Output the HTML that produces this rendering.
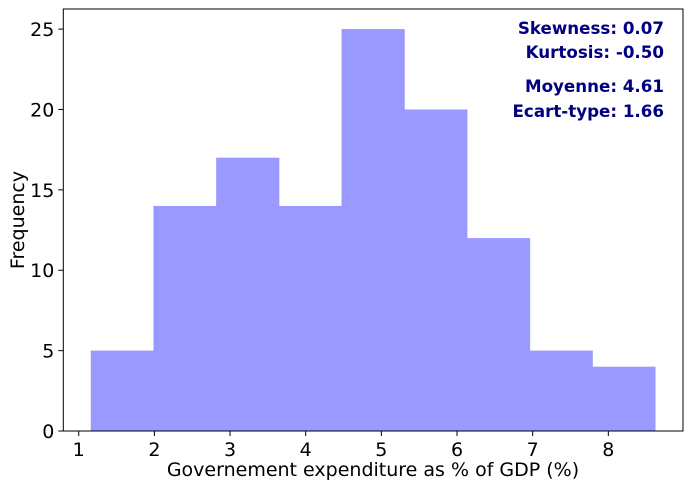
<!DOCTYPE html>
<html><head><meta charset="utf-8"><style>
body{margin:0;background:#fff;}
svg text{font-family:"DejaVu Sans","Liberation Sans",sans-serif;}
</style></head><body>
<svg id="chart" width="691" height="489" xmlns="http://www.w3.org/2000/svg">
<g id="bars"></g>
<g id="axes"></g>
<g font-weight="bold" font-size="16.7" fill="#000080" text-anchor="end">
<text x="664" y="34">Skewness: 0.07</text>
<text x="664" y="58">Kurtosis: -0.50</text>
<text x="664" y="92">Moyenne: 4.61</text>
<text x="664" y="117">Ecart-type: 1.66</text>
</g>
<text x="373" y="476" font-size="19" text-anchor="middle">Governement expenditure as % of GDP (%)</text>
<text transform="translate(24,220) rotate(-90)" font-size="19" text-anchor="middle">Frequency</text>
</svg>
<script>
const binStart = 1.159;
const binEnd = 8.617;
const counts = [5,14,17,14,25,20,12,5,4];
const xTicks = [1,2,3,4,5,6,7,8];
const yTicks = [0,5,10,15,20,25];
const NS="http://www.w3.org/2000/svg";
const X0=63.3,X1=683,Y0=431,Y1=9;
const xmin=0.796,xmax=8.987,ymin=0,ymax=26.25;
const sx=v=>X0+(v-xmin)/(xmax-xmin)*(X1-X0);
const sy=v=>Y0-(v-ymin)/(ymax-ymin)*(Y0-Y1);
function mk(t,a,p){const e=document.createElementNS(NS,t);for(const k in a)e.setAttribute(k,a[k]);p.appendChild(e);return e;}
const bars=document.getElementById('bars'),axes=document.getElementById('axes');
const w=(binEnd-binStart)/counts.length;
counts.forEach((c,i)=>{
 const a=binStart+i*w,b=a+w;
 const r=mk('rect',{x:sx(a),y:sy(c),width:sx(b)-sx(a)+0.5,height:sy(0)-sy(c),fill:'#9999ff'},bars);
 
 
});
const fr=mk('rect',{x:X0,y:Y1,width:X1-X0,height:Y0-Y1,fill:'none',stroke:'#000','stroke-width':1},axes);


xTicks.forEach(v=>{
 const x=sx(v);
 mk('line',{x1:x,x2:x,y1:Y0,y2:Y0+5,stroke:'#000'},axes);
 const t=mk('text',{x:x,y:Y0+25,'font-size':19,'text-anchor':'middle'},axes);
 t.textContent=v;
 
 
});
yTicks.forEach(v=>{
 const y=sy(v);
 mk('line',{x1:X0-5,x2:X0,y1:y,y2:y,stroke:'#000'},axes);
 const t=mk('text',{x:X0-9,y:y+7,'font-size':19,'text-anchor':'end'},axes);
 t.textContent=v;
 
 
});
</script>
</body></html>
